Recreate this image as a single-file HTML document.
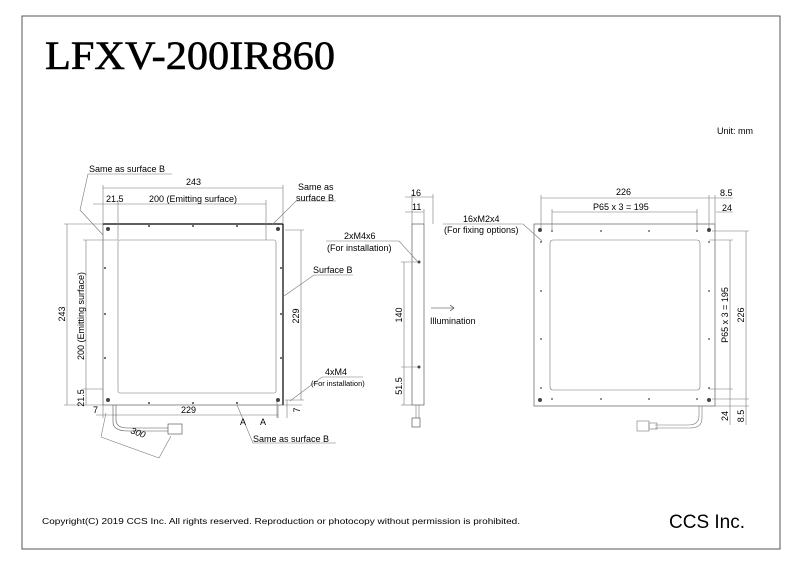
<!DOCTYPE html>
<html><head><meta charset="utf-8"><style>
html,body{margin:0;padding:0;background:#fff;}
svg{display:block}
text{font-family:"Liberation Sans",sans-serif;fill:#000}
</style></head><body>
<svg width="800" height="565" viewBox="0 0 800 565" xmlns="http://www.w3.org/2000/svg">
<rect x="22" y="16" width="758" height="533" fill="none" stroke="#555" stroke-width="1"/>
<text x="45" y="69" style="font-family:'Liberation Serif',serif" font-size="40" stroke="#000" stroke-width="0.6" textLength="290" lengthAdjust="spacingAndGlyphs">LFXV-200IR860</text>
<text x="717" y="134" font-size="9">Unit: mm</text>
<text x="42" y="524" font-size="8.5" textLength="478" lengthAdjust="spacingAndGlyphs">Copyright(C) 2019 CCS Inc. All rights reserved. Reproduction or photocopy without permission is prohibited.</text>
<text x="669" y="528" font-size="19">CCS Inc.</text>

<g stroke="#777" stroke-width="0.6" fill="none">
<!-- FRONT VIEW -->
<rect x="103" y="224" width="180" height="181" stroke="#444"/>
<line x1="103" y1="224" x2="283" y2="224" stroke="#000" stroke-width="1.2"/>
<line x1="283" y1="224" x2="283" y2="405" stroke="#000" stroke-width="1.2"/>
<rect x="118" y="240" width="158" height="153" rx="2"/>
<line x1="103" y1="188" x2="283" y2="188"/>
<line x1="103" y1="185" x2="103" y2="224"/><line x1="283" y1="185" x2="283" y2="224"/>
<line x1="93" y1="204" x2="266" y2="204"/>
<line x1="118" y1="200" x2="118" y2="240"/><line x1="266" y1="200" x2="266" y2="240"/>
<line x1="67" y1="224" x2="67" y2="405"/>
<line x1="64" y1="224" x2="103" y2="224"/><line x1="64" y1="405" x2="103" y2="405"/>
<line x1="86" y1="240" x2="86" y2="405"/><line x1="83" y1="240" x2="118" y2="240"/>
<line x1="83" y1="389" x2="103" y2="389"/>
<line x1="96" y1="415" x2="278" y2="415"/>
<line x1="103" y1="405" x2="103" y2="418"/><line x1="278" y1="405" x2="278" y2="418"/>
<line x1="301" y1="230" x2="301" y2="400"/>
<line x1="285" y1="230" x2="304" y2="230"/><line x1="285" y1="400" x2="304" y2="400"/>
<line x1="283" y1="405" x2="302" y2="405"/>
<line x1="277" y1="400" x2="277" y2="418"/><line x1="287" y1="400" x2="287" y2="418"/>
<polyline points="172,174 88,174 80,210 103,235"/>
<polyline points="336,201 296,201 272,225"/>
<polyline points="353,275 314,275 284,296"/>
<polyline points="363,377 322,377 290,401"/>
<polyline points="336,443 253,443 237,405"/>
<path d="M116,405 L116,420 Q116,428 128,428 L168,428" stroke="#555"/>
<path d="M113,405 L113,422 Q113,431 128,431 L168,431" stroke="#555"/>
<rect x="168" y="424" width="14" height="10" stroke="#444"/>
<line x1="106" y1="413" x2="101" y2="437"/><line x1="101" y1="437" x2="159" y2="458"/><line x1="159" y1="458" x2="171" y2="436"/>
<!-- SIDE VIEW -->
<rect x="412" y="224" width="12" height="181" stroke="#444"/>
<line x1="405" y1="197" x2="433" y2="197"/><line x1="412" y1="194" x2="412" y2="224"/><line x1="433" y1="194" x2="433" y2="224"/>
<line x1="405" y1="212" x2="424" y2="212"/><line x1="424" y1="209" x2="424" y2="224"/>
<line x1="404" y1="262" x2="404" y2="405"/>
<line x1="401" y1="262" x2="419" y2="262"/><line x1="401" y1="367" x2="419" y2="367"/><line x1="401" y1="405" x2="412" y2="405"/>
<polyline points="326,241 399,241 417,261"/>
<line x1="416" y1="405" x2="416" y2="418"/><line x1="419" y1="405" x2="419" y2="418"/>
<rect x="412" y="418" width="8" height="9" stroke="#444"/>
<line x1="431" y1="308" x2="454" y2="308" stroke="#333"/>
<polyline points="450,305 454,308 450,311" stroke="#333"/>
<!-- BACK VIEW -->
<rect x="534" y="224" width="181" height="182" stroke="#444"/>
<rect x="550" y="240" width="150" height="150" rx="3"/>
<line x1="541" y1="198" x2="733" y2="198"/>
<line x1="541" y1="195" x2="541" y2="230"/><line x1="709" y1="195" x2="709" y2="230"/><line x1="715" y1="195" x2="715" y2="224"/>
<line x1="552" y1="212" x2="697" y2="212"/><line x1="552" y1="209" x2="552" y2="230"/><line x1="697" y1="209" x2="697" y2="230"/>
<line x1="716" y1="212" x2="733" y2="212"/>
<line x1="730" y1="240" x2="730" y2="425"/>
<line x1="709" y1="240" x2="733" y2="240"/><line x1="709" y1="389" x2="733" y2="389"/>
<line x1="746" y1="231" x2="746" y2="425"/>
<line x1="712" y1="231" x2="749" y2="231"/><line x1="712" y1="399" x2="749" y2="399"/><line x1="715" y1="406" x2="749" y2="406"/>
<polyline points="443,224 523,224 542,241"/>
<path d="M702,406 L702,418 Q702,428 690,428 L655,428"/>
<path d="M699,406 L699,416 Q699,425 688,425 L655,425"/>
<rect x="637" y="421" width="12" height="10"/><rect x="649" y="423" width="8" height="6"/>
</g>
<g fill="#444">
<circle cx="108" cy="229" r="2"/><circle cx="278" cy="229" r="2"/><circle cx="108" cy="400" r="2"/><circle cx="278" cy="400" r="2"/>
<circle cx="149" cy="226" r="1"/><circle cx="193" cy="226" r="1"/><circle cx="237" cy="226" r="1"/>
<circle cx="149" cy="403" r="1"/><circle cx="193" cy="403" r="1"/><circle cx="237" cy="403" r="1"/>
<circle cx="105" cy="268" r="1"/><circle cx="105" cy="314" r="1"/><circle cx="105" cy="358" r="1"/>
<circle cx="281" cy="268" r="1"/><circle cx="281" cy="314" r="1"/><circle cx="281" cy="358" r="1"/>
<circle cx="419" cy="262" r="1.5"/><circle cx="419" cy="367" r="1.5"/>
<circle cx="540" cy="230" r="2"/><circle cx="709" cy="230" r="2"/><circle cx="540" cy="400" r="2"/><circle cx="709" cy="400" r="2"/>
<circle cx="552" cy="231" r="0.9"/><circle cx="601" cy="231" r="0.9"/><circle cx="649" cy="231" r="0.9"/><circle cx="697" cy="231" r="0.9"/>
<circle cx="552" cy="399" r="0.9"/><circle cx="601" cy="399" r="0.9"/><circle cx="649" cy="399" r="0.9"/><circle cx="697" cy="399" r="0.9"/>
<circle cx="541" cy="242" r="0.9"/><circle cx="541" cy="291" r="0.9"/><circle cx="541" cy="339" r="0.9"/><circle cx="541" cy="388" r="0.9"/>
<circle cx="709" cy="242" r="0.9"/><circle cx="709" cy="291" r="0.9"/><circle cx="709" cy="339" r="0.9"/><circle cx="709" cy="388" r="0.9"/>
</g>
<g font-size="9">
<text x="89" y="172">Same as surface B</text>
<text x="186" y="185">243</text>
<text x="106" y="202">21.5</text>
<text x="149" y="202">200 (Emitting surface)</text>
<text x="298" y="190">Same as</text>
<text x="296" y="201">surface B</text>
<text x="313" y="273">Surface B</text>
<text x="325" y="375">4xM4</text>
<text x="311" y="386" font-size="7.5">(For installation)</text>
<text x="181" y="413">229</text>
<text x="93" y="413">7</text>
<text x="240" y="425">A</text><text x="260" y="425">A</text>
<text x="253" y="442">Same as surface B</text>
<text x="130" y="433" transform="rotate(20 130 433)" font-style="italic">300</text>
<text x="344" y="239">2xM4x6</text>
<text x="327" y="251">(For installation)</text>
<text x="411" y="196">16</text>
<text x="412" y="210">11</text>
<text x="430" y="324">Illumination</text>
<text x="463" y="222">16xM2x4</text>
<text x="444" y="233">(For fixing options)</text>
<text x="616" y="195">226</text>
<text x="720" y="196">8.5</text>
<text x="593" y="210">P65 x 3 = 195</text>
<text x="722" y="211">24</text>
</g>
<g font-size="9">
<text transform="translate(65,314) rotate(-90)" text-anchor="middle">243</text>
<text transform="translate(84,316) rotate(-90)" text-anchor="middle">200 (Emitting surface)</text>
<text transform="translate(84,398) rotate(-90)" text-anchor="middle">21.5</text>
<text transform="translate(299,316) rotate(-90)" text-anchor="middle">229</text>
<text transform="translate(300,410) rotate(-90)" text-anchor="middle">7</text>
<text transform="translate(402,315) rotate(-90)" text-anchor="middle">140</text>
<text transform="translate(402,386) rotate(-90)" text-anchor="middle">51.5</text>
<text transform="translate(728,315) rotate(-90)" text-anchor="middle">P65 x 3 = 195</text>
<text transform="translate(744,315) rotate(-90)" text-anchor="middle">226</text>
<text transform="translate(728,416) rotate(-90)" text-anchor="middle">24</text>
<text transform="translate(744,416) rotate(-90)" text-anchor="middle">8.5</text>
</g>
</svg>
</body></html>
